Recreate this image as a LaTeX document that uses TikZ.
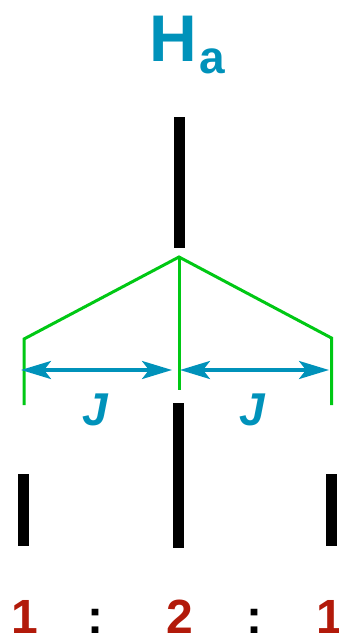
\documentclass[tikz,border=0pt]{standalone}
\usepackage{fontspec}
\setmainfont{Liberation Sans}
\usepackage{tikz}
\usepackage{xcolor}
\usetikzlibrary{arrows.meta}

\definecolor{hteal}{RGB}{0,146,186}
\definecolor{hred}{RGB}{178,26,10}
\definecolor{hgreen}{RGB}{0,200,20}

\begin{document}
\begin{tikzpicture}[x=1pt, y=-1pt,
    peak/.style={line width=11pt, black},
    split/.style={line width=3pt, hgreen},
    coupling/.style={line width=3.5pt, hteal, arrows={Stealth[length=30pt,width=18pt,inset=7pt]-Stealth[length=30pt,width=18pt,inset=7pt]}},
    ratio/.style={font=\fontsize{48}{48}\selectfont\bfseries, inner sep=0pt, anchor=base}]
    % Fix the bounding box to the reference size (339 x 634)
    \useasboundingbox (0,0) rectangle (339,634);

    % Label of the proton
    \node[hteal, font=\fontsize{66}{66}\selectfont\bfseries, inner sep=0pt, anchor=base] (hlabel) at (173,62) {H};
    \node[hteal, font=\fontsize{46}{46}\selectfont\bfseries, inner sep=0pt, anchor=base west] (hsub) at ([xshift=2pt, yshift=-12pt]hlabel.base east) {a};

    % Uncoupled signal
    \coordinate (top) at (179,117);
    \coordinate (topend) at (179,248);
    \draw[peak] (top) -- (topend);

    % Splitting tree
    \coordinate (apex) at (179,257);
    \coordinate (lcorner) at (24,339);
    \coordinate (lfoot) at (24,405);
    \coordinate (rcorner) at (331.5,338);
    \coordinate (rfoot) at (331.5,405);
    \coordinate (cfoot) at (179,390);
    \draw[split] (lfoot) -- (lcorner) -- (apex) -- (rcorner) -- (rfoot);
    \draw[split] (apex) -- (cfoot);

    % Coupling constants
    \coordinate (la) at (21,370);
    \coordinate (lb) at (172,370);
    \coordinate (ra) at (180,370);
    \coordinate (rb) at (329,370);
    \draw[coupling] (la) -- (lb);
    \draw[coupling] (ra) -- (rb);
    \node[hteal, font=\fontsize{46}{46}\selectfont\bfseries\itshape, inner sep=0pt, anchor=base] (jleft) at (95,425) {J};
    \node[hteal, font=\fontsize{46}{46}\selectfont\bfseries\itshape, inner sep=0pt, anchor=base] (jright) at (252,425) {J};

    % Triplet
    \coordinate (ltop) at (23.5,474);
    \coordinate (lbot) at (23.5,546);
    \coordinate (ctop) at (178.5,403);
    \coordinate (cbot) at (178.5,548);
    \coordinate (rtop) at (331,474);
    \coordinate (rbot) at (331,546);
    \draw[peak] (ltop) -- (lbot);
    \draw[peak] (ctop) -- (cbot);
    \draw[peak] (rtop) -- (rbot);

    % Intensity ratio
    \node[ratio, hred] (nleft) at (25,633) {1};
    \node[ratio] (cleft) at (95,633) {:};
    \node[ratio, hred] (nmid) at (180,633) {2};
    \node[ratio] (cright) at (254,633) {:};
    \node[ratio, hred] (nright) at (330,633) {1};
\end{tikzpicture}
\end{document}
